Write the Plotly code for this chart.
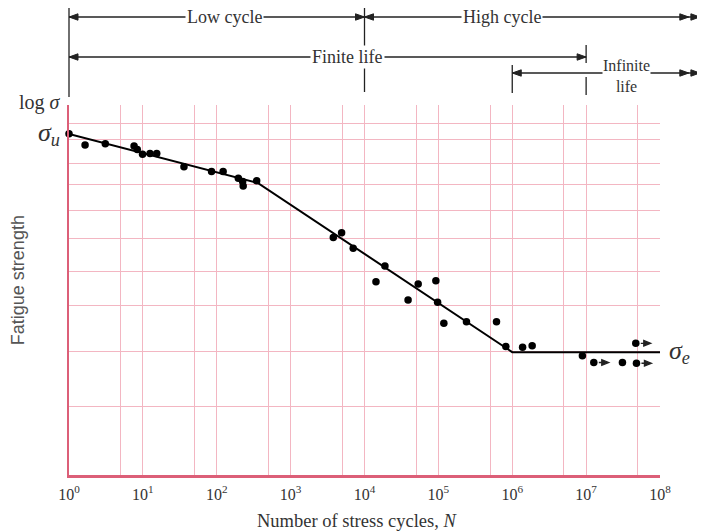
import plotly.graph_objects as go
import math

# ---------------- data ----------------
cycles = [1, 1.65, 3.1, 7.6, 8.4, 9.9, 12.5, 15.4, 36, 85, 122, 196, 224, 228, 347,
          3780, 4900, 7030, 18900, 14300, 53300, 92500, 38900, 97600, 118600,
          240000, 612000, 819000, 1.38e6, 1.86e6, 8.9e6, 3.1e7]
strength = [92.2, 89.2, 89.5, 88.9, 88.0, 86.7, 86.9, 86.9, 83.3, 82.0, 82.0, 80.2,
            79.3, 78.1, 79.5, 64.2, 65.5, 61.3, 56.5, 52.2, 51.6, 52.5, 47.3, 46.7,
            41.0, 41.4, 41.4, 34.7, 34.5, 34.9, 32.2, 30.4]
runout_cycles = [1.27e7, 4.8e7, 4.7e7]
runout_strength = [30.4, 30.2, 35.6]

curve_cycles = [1, 363, 1e6, 1e8]
curve_strength = [92.2, 78.9, 33.2, 33.2]

sigma_u = 92.2
sigma_e = 33.2

decade_ticks = [10 ** k for k in range(0, 9)]
decade_labels = ["10<sup>%d</sup>" % k for k in range(0, 9)]
half_ticks = [5 * 10 ** k for k in range(0, 8)]
strength_grid = [18.6, 33.5, 45.7, 54.9, 63.8, 71.6, 78.6, 84.3, 90.8, 95.1, 100]

# region boundaries (cycles)
low_high_boundary = 1e4
finite_start = 1
finite_end = 1e7
infinite_start = 1e6
arrow_end = 10 ** 8.54

INK = "#222222"
TEXT = "#333333"
AXIS_RED = "#dc5f78"
GRID_PINK = "#f3b6c2"
SERIF = "Liberation Serif, Times New Roman, serif"

fig = go.Figure()

fig.add_trace(go.Scatter(x=curve_cycles, y=curve_strength, mode="lines",
                         line=dict(color="black", width=2), cliponaxis=False,
                         hoverinfo="skip", showlegend=False))
fig.add_trace(go.Scatter(x=cycles, y=strength, mode="markers",
                         marker=dict(color="black", size=7.5), cliponaxis=False,
                         showlegend=False))
fig.add_trace(go.Scatter(x=runout_cycles, y=runout_strength, mode="markers",
                         marker=dict(color="black", size=7.5), cliponaxis=False,
                         showlegend=False))

XMAX_LOG = 8.0


def px(n):
    """paper x of a cycle count on the log axis spanning 10^0..10^8"""
    return math.log10(n) / XMAX_LOG


def py(pix):
    # page-pixel row -> paper y (plot area spans rows 105..475 of the page)
    return (475 - pix) / 370.0


shapes = []
annotations = []


def vline(n, top, bottom):
    shapes.append(dict(type="line", xref="paper", yref="paper", x0=px(n), x1=px(n),
                       y0=py(top), y1=py(bottom), line=dict(color=INK, width=1.3)))


def hline(n0, n1, row):
    shapes.append(dict(type="line", xref="paper", yref="paper", x0=px(n0), x1=px(n1),
                       y0=py(row), y1=py(row), line=dict(color=INK, width=1.3)))


def head(n, row, direction):
    d = direction
    shapes.append(dict(type="path", xref="paper", yref="paper",
                       xsizemode="pixel", ysizemode="pixel",
                       xanchor=px(n), yanchor=py(row),
                       path="M 0,0 L %d,3.2 L %d,-3.2 Z" % (-9 * d, -9 * d),
                       fillcolor=INK, line=dict(color=INK, width=1)))


def label(text, n, row, size=18):
    annotations.append(dict(xref="paper", yref="paper", x=px(n), y=py(row), text=text,
                            xanchor="center", yanchor="middle",
                            showarrow=False, bgcolor="white", borderpad=1,
                            font=dict(family=SERIF, size=size, color=TEXT)))


# vertical boundary markers
vline(finite_start, 8, 97)
vline(low_high_boundary, 8, 92)
vline(infinite_start, 65, 93)
vline(finite_end, 45, 63)
vline(finite_end, 77, 95)

# Low cycle / High cycle row
row1 = 17
hline(finite_start, low_high_boundary, row1)
head(finite_start, row1, -1)
head(low_high_boundary, row1, 1)
hline(low_high_boundary, arrow_end, row1)
head(low_high_boundary, row1, -1)
head(arrow_end / 10 ** 0.15, row1, 1)
head(arrow_end, row1, 1)

# Finite life row
row2 = 57
hline(finite_start, finite_end, row2)
head(finite_start, row2, -1)
head(finite_end, row2, 1)

# Infinite life row
row3 = 73
hline(infinite_start, arrow_end, row3)
head(infinite_start, row3, -1)
head(arrow_end / 10 ** 0.15, row3, 1)
head(arrow_end, row3, 1)

label("Low cycle", 10 ** 2.11, row1)
label("High cycle", 10 ** 5.86, row1)
label("Finite life", 10 ** 3.77, row2)
annotations.append(dict(xref="paper", yref="paper", x=px(10 ** 7.54), y=py(76),
                        xanchor="center", yanchor="middle",
                        text="Infinite<br>life", showarrow=False, bgcolor="white",
                        borderpad=0, font=dict(family=SERIF, size=16, color=TEXT)))

# y-side labels
annotations.append(dict(xref="paper", yref="paper", x=-0.01, y=py(102), xanchor="right",
                        yanchor="middle", text="log <i>σ</i>", showarrow=False,
                        font=dict(family=SERIF, size=20, color=TEXT)))
annotations.append(dict(xref="paper", yref="y", x=-0.012, y=sigma_u, xanchor="right",
                        yanchor="middle", text="<i>σ<sub>u</sub></i>", showarrow=False,
                        font=dict(family=SERIF, size=26, color=TEXT)))
annotations.append(dict(xref="paper", yref="y", x=1.012, y=sigma_e, xanchor="left",
                        yanchor="middle", text="<i>σ<sub>e</sub></i>", showarrow=False,
                        font=dict(family=SERIF, size=26, color=TEXT)))
annotations.append(dict(xref="paper", yref="paper", x=-0.086, y=py(280), textangle=-90,
                        xanchor="center", yanchor="middle",
                        text="Fatigue strength", showarrow=False,
                        font=dict(family="Liberation Sans, Arial", size=18,
                                  color="#555555")))
annotations.append(dict(xref="paper", yref="paper", x=px(10 ** 3.9), y=py(521),
                        xanchor="center", yanchor="middle",
                        text="Number of stress cycles, <i>N</i>", showarrow=False,
                        font=dict(family=SERIF, size=18.5, color=TEXT)))

# runout arrows (short stem + head to the right of each run-out dot)
for n, s in zip(runout_cycles, runout_strength):
    shapes.append(dict(type="path", xref="x", yref="y",
                       xsizemode="pixel", ysizemode="pixel",
                       xanchor=n, yanchor=s,
                       path="M 5,0 L 9,0 M 15,0 L 8,2.8 L 8,-2.8 Z",
                       fillcolor=INK, line=dict(color=INK, width=1.3)))

# The page body has an 8px margin, so the figure is sized to fill the rest of the window.
fig.update_layout(
    width=697, height=524,
    margin=dict(l=61, r=45, t=97, b=57),
    paper_bgcolor="white", plot_bgcolor="white",
    shapes=shapes, annotations=annotations,
    showlegend=False,
    xaxis=dict(type="log", range=[0, 8], tickvals=decade_ticks, ticktext=decade_labels,
               showgrid=True, gridcolor=GRID_PINK, gridwidth=1,
               minor=dict(tickvals=half_ticks, showgrid=True, gridcolor=GRID_PINK,
                          gridwidth=1, ticks=""),
               showline=True, linecolor=AXIS_RED, linewidth=2.5, ticks="",
               zeroline=False, ticklabelstandoff=3,
               tickfont=dict(family=SERIF, size=16, color=TEXT)),
    yaxis=dict(range=[0, 100], tickvals=strength_grid, showticklabels=False,
               showgrid=True, gridcolor=GRID_PINK, gridwidth=1,
               showline=True, linecolor=AXIS_RED, linewidth=2, ticks="",
               zeroline=False),
)

fig.write_html("out.html")
